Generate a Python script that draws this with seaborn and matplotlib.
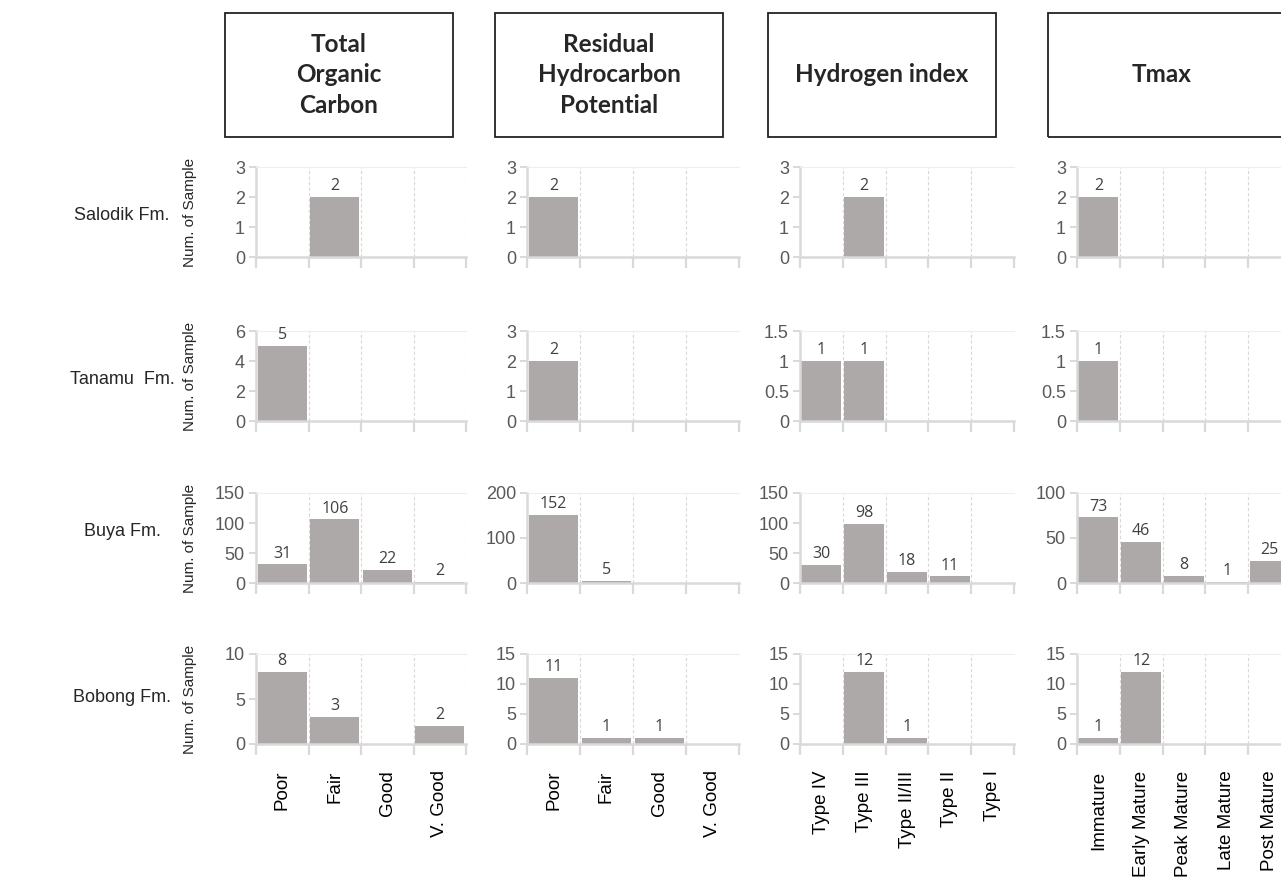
import numpy as np
import matplotlib
matplotlib.use("Agg")
import matplotlib.pyplot as plt
from matplotlib.patches import Rectangle
import seaborn as sns

# formations (rows) and parameters (columns)
formations = ["Salodik Fm.", "Tanamu  Fm.", "Buya Fm.", "Bobong Fm."]
headers = ["Total\nOrganic\nCarbon", "Residual\nHydrocarbon\nPotential",
           "Hydrogen index", "Tmax"]

quality_classes = ["Poor", "Fair", "Good", "V. Good"]
kerogen_classes = ["Type IV", "Type III", "Type II/III", "Type II", "Type I"]
maturity_classes = ["Immature", "Early Mature", "Peak Mature", "Late Mature", "Post Mature"]

# counts per formation (Salodik, Tanamu, Buya, Bobong)
toc_counts = [[0, 2, 0, 0], [5, 0, 0, 0], [31, 106, 22, 2], [8, 3, 0, 2]]
rhp_counts = [[2, 0, 0, 0], [2, 0, 0, 0], [152, 5, 0, 0], [11, 1, 1, 0]]
hi_counts = [[0, 2, 0, 0, 0], [1, 1, 0, 0, 0], [30, 98, 18, 11, 0], [0, 12, 1, 0, 0]]
tmax_counts = [[2, 0, 0, 0, 0], [1, 0, 0, 0, 0], [73, 46, 8, 1, 25], [1, 12, 0, 0, 0]]

# y axis max and step per panel, one entry per formation
toc_ymax = [3, 6, 150, 10]
toc_step = [1, 2, 50, 5]
rhp_ymax = [3, 3, 200, 15]
rhp_step = [1, 1, 100, 5]
hi_ymax = [3, 1.5, 150, 15]
hi_step = [1, 0.5, 50, 5]
tmax_ymax = [3, 1.5, 100, 15]
tmax_step = [1, 0.5, 50, 5]

columns = [
    (quality_classes, toc_counts, toc_ymax, toc_step),
    (quality_classes, rhp_counts, rhp_ymax, rhp_step),
    (kerogen_classes, hi_counts, hi_ymax, hi_step),
    (maturity_classes, tmax_counts, tmax_ymax, tmax_step),
]

sns.set_theme(style="white")
plt.rcParams["font.family"] = ["Liberation Sans", "DejaVu Sans"]

W, H = 1281, 881
fig = plt.figure(figsize=(W / 100, H / 100), dpi=100)

BAR = "#ADA9A9"
LINE = "#D9D9D9"

col_left = [256, 527, 800, 1077]
col_width = [210, 212, 214, 214]
row_top = [167, 331, 493, 654]
row_h = 90
label_y = [215, 380, 532, 697]

# header boxes; the last one runs off the right edge as in the original
box_left = [225, 495, 768, 1048]
box_w = [228, 228, 228, 245]
box_top, box_bot = 13, 137

for c, (classes, counts, ymax, step) in enumerate(columns):
    fig.add_artist(Rectangle((box_left[c] / W, 1 - box_bot / H), box_w[c] / W,
                             (box_bot - box_top) / H, transform=fig.transFigure,
                             fill=False, edgecolor="#222222", linewidth=1.3))
    fig.text((box_left[c] + 114) / W, 1 - (box_top + box_bot) / 2 / H,
             headers[c], ha="center", va="center", fontsize=17.5,
             fontweight="bold", family=["Lato", "DejaVu Sans"], linespacing=1.4)

    n = len(classes)
    for r in range(len(formations)):
        ax = fig.add_axes([col_left[c] / W, 1 - (row_top[r] + row_h) / H,
                           col_width[c] / W, row_h / H])
        vals = counts[r]
        sns.barplot(x=classes, y=vals, order=classes, ax=ax, color=BAR,
                    saturation=1, width=0.93, linewidth=0, zorder=2)
        ax.bar_label(ax.containers[0], labels=[str(v) if v else "" for v in vals],
                     padding=2, fontsize=11.5, color="#404040",
                     family=["Open Sans", "DejaVu Sans"])

        ax.set_xlim(-0.5, n - 0.5)
        ax.set_ylim(0, ymax[r])
        ax.set_yticks(np.arange(0, ymax[r] + step[r] / 2, step[r]))
        ax.set_yticklabels([f"{t:g}" for t in ax.get_yticks()])

        # dashed separators between categories
        for b in range(n):
            ax.axvline(b + 0.5, color=LINE, linestyle=(0, (3, 2)), linewidth=0.8, zorder=0)

        ax.set_xticks(np.arange(n + 1) - 0.5, minor=True)
        ax.tick_params(axis="x", which="minor", bottom=True, length=8, width=1.6, color=LINE)
        ax.tick_params(axis="x", which="major", bottom=False, length=0, pad=19,
                       labelsize=13.5, labelcolor="black", rotation=90)
        ax.tick_params(axis="y", which="major", left=True, length=5, width=1.4, color=LINE,
                       labelsize=13, labelcolor="#595959", pad=3)
        if r < len(formations) - 1:
            ax.set_xticklabels([])

        for side in ["left", "bottom"]:
            ax.spines[side].set_color(LINE)
            ax.spines[side].set_linewidth(1.8)
        ax.spines["top"].set_color("#EEEEEE")
        ax.spines["top"].set_linewidth(0.8)
        ax.spines["right"].set_visible(False)
        ax.set_xlabel("")
        ax.set_ylabel("")

        if c == 0:
            cy = 1 - (row_top[r] + row_h / 2) / H
            fig.text(190 / W, cy, "Num. of Sample", rotation=90,
                     ha="center", va="center", fontsize=11)
            fig.text(122 / W, 1 - label_y[r] / H, formations[r], ha="center",
                     va="center", fontsize=13)

fig.savefig("out.png", dpi=100)
